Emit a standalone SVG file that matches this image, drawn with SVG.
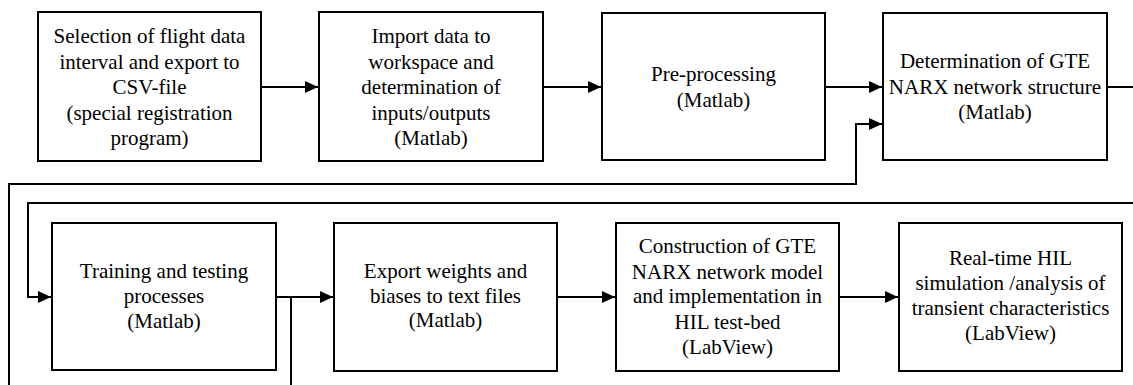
<svg xmlns="http://www.w3.org/2000/svg" width="1133" height="385" viewBox="0 0 1133 385">
<style>
.box{fill:#fff;stroke:#000;stroke-width:2}
.t{font-family:'Liberation Serif','Times New Roman',Tinos,'DejaVu Serif',serif;font-size:21px;fill:#000;text-anchor:middle}
.c{fill:none;stroke:#000;stroke-width:2}
</style>
<defs>
<marker id="ah" markerUnits="userSpaceOnUse" markerWidth="14" markerHeight="12" refX="13" refY="6" orient="auto">
<path d="M0,0 L13,6 L0,12 z" fill="#000"/>
</marker>
</defs>
<rect width="1133" height="385" fill="#fff"/>
<g id="connectors">
<path class="c" d="M261,87 H318" marker-end="url(#ah)"/>
<path class="c" d="M543,87 H601" marker-end="url(#ah)"/>
<path class="c" d="M825,87 H882" marker-end="url(#ah)"/>
<path class="c" d="M1107,87 H1133"/>
<path class="c" d="M1133,203 H28 V297 H51" marker-end="url(#ah)"/>
<path class="c" d="M9,385 V184 H856 V124 H882" marker-end="url(#ah)"/>
<path class="c" d="M276,297 H333" marker-end="url(#ah)"/>
<path class="c" d="M291,297 V385"/>
<path class="c" d="M557,297 H615" marker-end="url(#ah)"/>
<path class="c" d="M839,297 H898" marker-end="url(#ah)"/>
</g>
<g id="n1">
<rect class="box" x="38" y="12" width="223" height="149"/>
<text class="t" font-family="Liberation Serif, serif"><tspan x="149.5" y="43">Selection of flight data</tspan><tspan x="149.5" y="68.5">interval and export to</tspan><tspan x="149.5" y="94">CSV-file</tspan><tspan x="149.5" y="119.5">(special registration</tspan><tspan x="149.5" y="145">program)</tspan></text>
</g>
<g id="n2">
<rect class="box" x="319" y="12" width="224" height="149"/>
<text class="t"><tspan x="431" y="43">Import data to</tspan><tspan x="431" y="68.5">workspace and</tspan><tspan x="431" y="94">determination of</tspan><tspan x="431" y="119.5">inputs/outputs</tspan><tspan x="431" y="145">(Matlab)</tspan></text>
</g>
<g id="n3">
<rect class="box" x="602" y="13" width="223" height="147"/>
<text class="t"><tspan x="713.5" y="81">Pre-processing</tspan><tspan x="713.5" y="106.5">(Matlab)</tspan></text>
</g>
<g id="n4">
<rect class="box" x="883" y="13" width="224" height="147"/>
<text class="t"><tspan x="995" y="68">Determination of GTE</tspan><tspan x="995" y="93.5">NARX network structure</tspan><tspan x="995" y="119">(Matlab)</tspan></text>
</g>
<g id="n5">
<rect class="box" x="52" y="223" width="224" height="147"/>
<text class="t"><tspan x="164" y="278">Training and testing</tspan><tspan x="164" y="303">processes</tspan><tspan x="164" y="328">(Matlab)</tspan></text>
</g>
<g id="n6">
<rect class="box" x="334" y="223" width="223" height="148"/>
<text class="t"><tspan x="445.5" y="278">Export weights and</tspan><tspan x="445.5" y="302.5">biases to text files</tspan><tspan x="445.5" y="327">(Matlab)</tspan></text>
</g>
<g id="n7">
<rect class="box" x="616" y="223" width="223" height="148"/>
<text class="t"><tspan x="727.5" y="253">Construction of GTE</tspan><tspan x="727.5" y="278.5">NARX network model</tspan><tspan x="727.5" y="303">and implementation in</tspan><tspan x="727.5" y="328.5">HIL test-bed</tspan><tspan x="727.5" y="354">(LabView)</tspan></text>
</g>
<g id="n8">
<rect class="box" x="899" y="223" width="223" height="148"/>
<text class="t"><tspan x="1010.5" y="265">Real-time HIL</tspan><tspan x="1010.5" y="290">simulation /analysis of</tspan><tspan x="1010.5" y="315">transient characteristics</tspan><tspan x="1010.5" y="340">(LabView)</tspan></text>
</g>
</svg>
